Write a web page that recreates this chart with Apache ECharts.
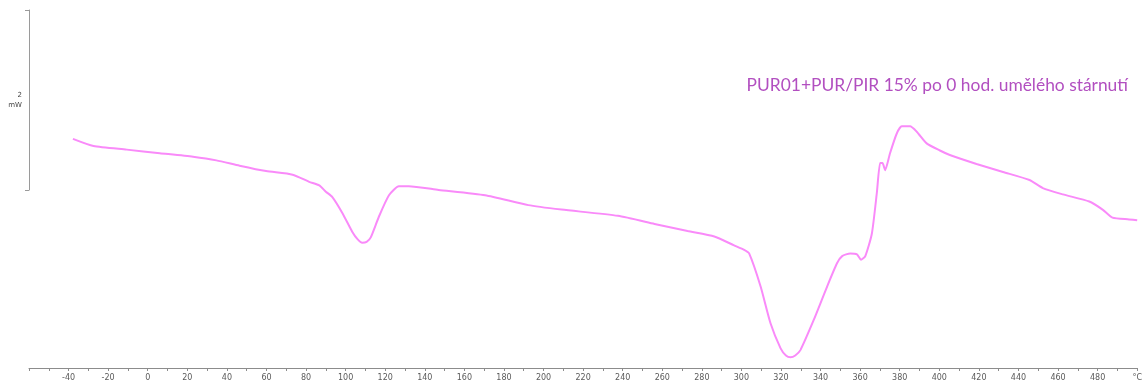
<!DOCTYPE html>
<html>
<head>
<meta charset="utf-8">
<script src="https://cdn.jsdelivr.net/npm/echarts@6/dist/echarts.min.js"></script>
<style>
  html, body { margin: 0; padding: 0; background: #fff; }
  #chart { width: 1145px; height: 385px; }
</style>
</head>
<body>
<div id="chart"></div>
<script>
// DSC trace: heat flow (mW, relative offset) versus temperature (°C)
const temperature = [
  -37.8, -27.4, -10.6, 6.1, 22.9, 34.7, 46.4, 59.8, 73.2, 81.6,
  86.7, 90.0, 93.3, 98.4, 103.4, 106.0, 108.4, 110.6, 112.7, 116.8, 121.9, 126.9,
  131.9, 147.0, 170.5, 192.3, 209.1, 237.6, 256.1, 272.8, 286.3, 296.3,
  301.4, 303.9, 309.7, 314.7, 319.8, 322.5, 324.8, 327.2, 329.8, 336.6, 343.3, 348.3,
  350.9, 355.0, 358.4, 360.4, 362.6, 365.9, 368.4, 370.1, 371.3, 372.6,
  375.1, 378.5, 381.0, 385.2, 388.6, 393.6, 400.3, 405.3, 418.8, 432.2,
  445.6, 452.3, 462.4, 475.8, 482.5, 487.5, 495.9, 500.0
];
const heatFlow = [
  0.06, -0.02, -0.06, -0.10, -0.14, -0.18, -0.24, -0.30, -0.34, -0.42,
  -0.46, -0.53, -0.59, -0.77, -0.98, -1.06, -1.10, -1.09, -1.04, -0.81, -0.57, -0.47,
  -0.47, -0.51, -0.57, -0.68, -0.73, -0.80, -0.89, -0.97, -1.03, -1.13,
  -1.18, -1.22, -1.59, -2.00, -2.28, -2.36, -2.38, -2.36, -2.30, -1.96, -1.59, -1.33,
  -1.25, -1.22, -1.23, -1.29, -1.25, -1.00, -0.55, -0.21, -0.21, -0.29,
  -0.10, 0.12, 0.20, 0.20, 0.14, 0.01, -0.07, -0.12, -0.22, -0.31,
  -0.40, -0.49, -0.56, -0.64, -0.73, -0.82, -0.84, -0.85
];
const seriesName = 'PUR01+PUR/PIR 15% po 0 hod. umělého stárnutí';
const tempUnit = '°C';
const scaleBarLabel = '2\nmW';

const points = temperature.map((t, i) => [t, heatFlow[i]]);

const chart = echarts.init(document.getElementById('chart'), null, { renderer: 'canvas' });

chart.setOption({
  animation: false,
  backgroundColor: '#ffffff',
  title: {
    text: seriesName,
    right: 12,
    top: 72,
    textStyle: {
      fontFamily: 'Lato',
      fontSize: 17.4,
      fontWeight: 'normal',
      color: '#b24fc0'
    }
  },
  grid: [
    { left: 29, right: 5, top: 10, bottom: 17, containLabel: false },
    { left: 29, width: 1, top: 10, height: 180, containLabel: false }
  ],
  xAxis: [
    {
      type: 'value',
      gridIndex: 0,
      min: -60,
      max: 500,
      interval: 10,
      splitLine: { show: false },
      axisLine: { show: true, onZero: false, lineStyle: { color: '#8c8c8c', width: 1 } },
      axisTick: { show: true, length: 3, lineStyle: { color: '#8c8c8c' } },
      axisLabel: {
        margin: 6,
        fontSize: 8,
        fontFamily: 'DejaVu Sans',
        color: '#5a5a5a',
        showMinLabel: true,
        showMaxLabel: true,
        formatter: v => {
          if (v === 500) return tempUnit;
          if (v === -60) return '';
          return (Math.round(v) % 20 === 0) ? String(v) : '';
        }
      }
    },
    {
      type: 'value',
      gridIndex: 1,
      show: false,
      min: 0,
      max: 1
    }
  ],
  yAxis: [
    {
      type: 'value',
      gridIndex: 0,
      min: -2.5,
      max: 1.5,
      show: false
    },
    {
      type: 'value',
      gridIndex: 1,
      min: 0,
      max: 2,
      interval: 2,
      position: 'left',
      splitLine: { show: false },
      axisLine: { show: true, onZero: false, lineStyle: { color: '#9a9a9a', width: 1 } },
      axisTick: { show: true, length: 4, lineStyle: { color: '#9a9a9a' } },
      axisLabel: { show: false },
      name: scaleBarLabel,
      nameLocation: 'middle',
      nameRotate: 0,
      nameGap: 7,
      nameTextStyle: {
        fontSize: 7,
        fontFamily: 'DejaVu Sans',
        color: '#444',
        align: 'right',
        lineHeight: 10
      }
    }
  ],
  series: [
    {
      name: seriesName,
      type: 'line',
      xAxisIndex: 0,
      yAxisIndex: 0,
      data: points,
      smooth: 0.2,
      showSymbol: false,
      symbol: 'none',
      clip: true,
      lineStyle: { color: '#f98af9', width: 2 }
    }
  ]
});
</script>
</body>
</html>
